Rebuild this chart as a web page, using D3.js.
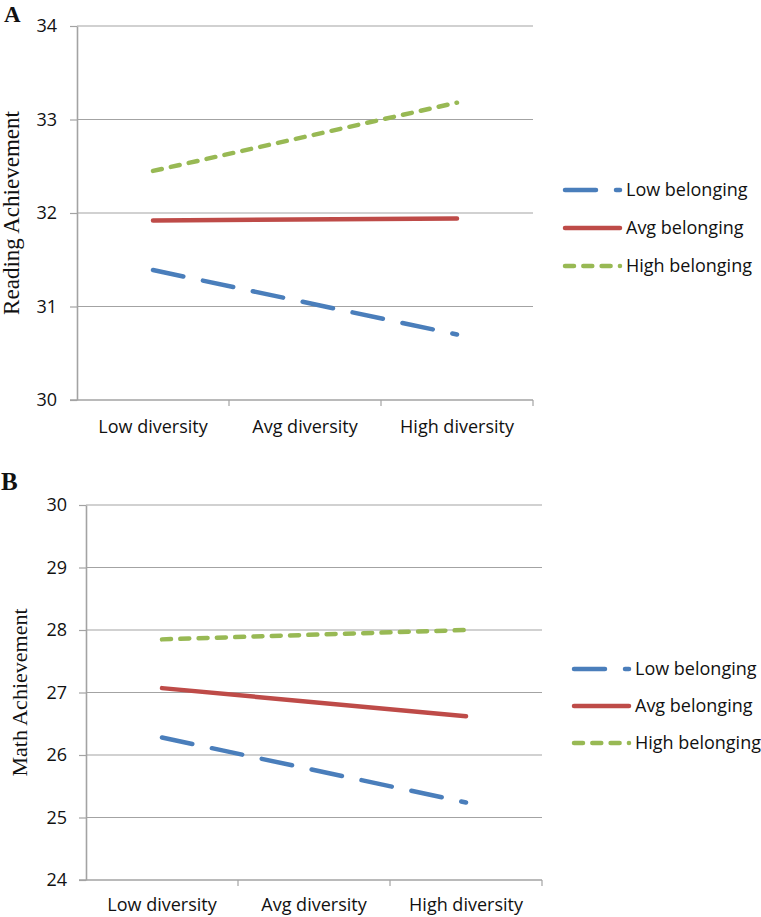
<!DOCTYPE html>
<html>
<head>
<meta charset="utf-8">
<script src="https://cdn.jsdelivr.net/npm/d3@7"></script>
<style>
  body { margin: 0; background: #fff; }
  svg { display: block; }
</style>
</head>
<body>
<svg id="chart" width="761" height="917"></svg>
<script>
// categories on the x axis
const diversity = ['Low diversity', 'Avg diversity', 'High diversity']
// lines only run from low to high diversity
const endpoints = ['Low diversity', 'High diversity']
const belonging = ['Low belonging', 'Avg belonging', 'High belonging']

// panel A: reading
const readingLow = [31.39, 30.70]
const readingAvg = [31.92, 31.94]
const readingHigh = [32.45, 33.18]
const readingTicks = [30, 31, 32, 33, 34]

// panel B: math
const mathLow = [26.28, 25.24]
const mathAvg = [27.07, 26.62]
const mathHigh = [27.85, 28.00]
const mathTicks = [24, 25, 26, 27, 28, 29, 30]

const colors = ['#4a7ebb', '#be4b48', '#98b954']
const dashes = ['31,20', null, '9,9.3']
const sans = "'Open Sans', 'Noto Sans', sans-serif"
const serif = "'Liberation Serif', 'Times New Roman', serif"

const svg = d3.select('#chart')

function drawPanel(opt) {
    const g = svg.append('g')

    const x = d3.scaleBand()
        .domain(diversity)
        .range([opt.left, opt.right])
    const y = d3.scaleLinear()
        .domain(d3.extent(opt.ticks))
        .range([opt.bottom, opt.top])

    // gridlines
    g.selectAll('.grid')
        .data(opt.ticks.slice(1))
        .enter()
        .append('line')
        .attr('x1', opt.left)
        .attr('x2', opt.right)
        .attr('y1', d => y(d))
        .attr('y2', d => y(d))
        .attr('stroke', '#a3a3a3')
        .attr('stroke-width', 1.2)

    // y axis
    const yAxis = g.append('g')
        .attr('transform', 'translate(' + opt.left + ',0)')
        .call(d3.axisLeft(y).tickValues(opt.ticks).tickFormat(d3.format('d'))
            .tickSize(7).tickSizeOuter(0).tickPadding(12))
    yAxis.select('.domain').attr('stroke', '#a3a3a3').attr('stroke-width', 1.6)
    yAxis.selectAll('.tick line').attr('stroke', '#a3a3a3').attr('stroke-width', 1.2)
    yAxis.selectAll('.tick text')
        .attr('font-family', sans)
        .attr('font-size', 18)
        .attr('fill', '#111')
        .attr('x', opt.labelRight - opt.left)

    // x axis with ticks between categories
    const xg = g.append('g')
    xg.append('line')
        .attr('x1', opt.left - 7).attr('x2', opt.right)
        .attr('y1', opt.bottom).attr('y2', opt.bottom)
        .attr('stroke', '#a3a3a3').attr('stroke-width', 1.6)
    const edges = diversity.map(d => x(d)).concat([x.range()[1]])
    xg.selectAll('.xtick')
        .data(edges.slice(1))
        .enter()
        .append('line')
        .attr('x1', d => d).attr('x2', d => d)
        .attr('y1', opt.bottom).attr('y2', opt.bottom + 6)
        .attr('stroke', '#a3a3a3').attr('stroke-width', 1.2)
    xg.selectAll('.xlabel')
        .data(diversity)
        .enter()
        .append('text')
        .attr('x', d => x(d) + x.bandwidth() / 2)
        .attr('y', opt.xLabelY)
        .attr('text-anchor', 'middle')
        .attr('font-family', sans)
        .attr('font-size', 18)
        .attr('fill', '#111')
        .text(d => d)

    // lines
    const line = d3.line()
        .x((d, i) => x(endpoints[i]) + x.bandwidth() / 2)
        .y(d => y(d))
    g.selectAll('.series')
        .data(opt.series)
        .enter()
        .append('path')
        .attr('d', d => line(d))
        .attr('fill', 'none')
        .attr('stroke', (d, i) => colors[i])
        .attr('stroke-width', 4.5)
        .attr('stroke-linecap', 'round')
        .attr('stroke-dasharray', (d, i) => dashes[i])

    // legend
    const leg = g.selectAll('.legend')
        .data(belonging)
        .enter()
        .append('g')
        .attr('transform', (d, i) => 'translate(' + opt.legX + ',' + (opt.legY + i * opt.legStep) + ')')
    leg.append('line')
        .attr('x1', 0).attr('x2', 55)
        .attr('stroke', (d, i) => colors[i])
        .attr('stroke-width', 4.5)
        .attr('stroke-linecap', 'round')
        .attr('stroke-dasharray', (d, i) => dashes[i])
    leg.append('text')
        .attr('x', 61)
        .attr('dy', '0.35em')
        .attr('font-family', sans)
        .attr('font-size', 18)
        .attr('fill', '#111')
        .text(d => d)

    // y title
    g.append('text')
        .attr('transform', 'translate(' + opt.titleX + ',' + ((opt.top + opt.bottom) / 2) + ') rotate(-90)')
        .attr('text-anchor', 'middle')
        .attr('font-family', serif)
        .attr('font-size', opt.titleSize)
        .attr('fill', '#111')
        .text(opt.title)

    // panel letter
    g.append('text')
        .attr('x', opt.letterX)
        .attr('y', opt.letterY)
        .attr('font-family', serif)
        .attr('font-weight', 'bold')
        .attr('font-size', opt.letterSize)
        .attr('fill', '#111')
        .text(opt.letter)
}

drawPanel({
    letter: 'A', letterX: 4, letterY: 22, letterSize: 23,
    title: 'Reading Achievement', titleX: 19, titleSize: 23,
    left: 77, right: 533, top: 26, bottom: 400,
    ticks: readingTicks, labelRight: 57, xLabelY: 433,
    series: [readingLow, readingAvg, readingHigh],
    legX: 565, legY: 190, legStep: 38
})

drawPanel({
    letter: 'B', letterX: 1, letterY: 490, letterSize: 25,
    title: 'Math Achievement', titleX: 27, titleSize: 22,
    left: 86, right: 542, top: 505, bottom: 880,
    ticks: mathTicks, labelRight: 67, xLabelY: 911,
    series: [mathLow, mathAvg, mathHigh],
    legX: 574, legY: 669, legStep: 37
})
</script>
</body>
</html>
